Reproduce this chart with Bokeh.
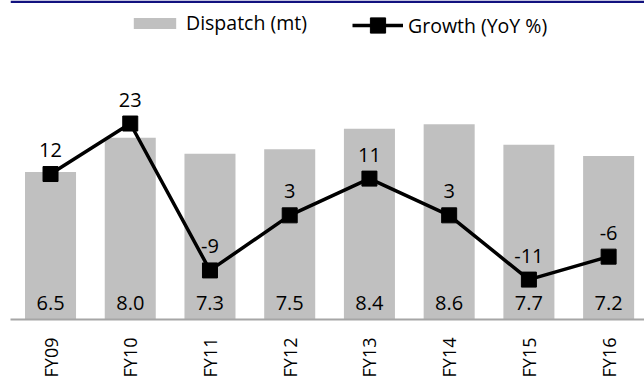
import math
from bokeh.plotting import figure
from bokeh.models import Range1d, FixedTicker, ColumnDataSource, Legend, LegendItem, Span
from bokeh.core.properties import value
from bokeh.embed import file_html
from bokeh.resources import INLINE

years = ["FY09", "FY10", "FY11", "FY12", "FY13", "FY14", "FY15", "FY16"]
dispatch = [6.5, 8.0, 7.3, 7.5, 8.4, 8.6, 7.7, 7.2]
growth = [12, 23, -9, 3, 11, 3, -11, -6]

FONT = "Open Sans"
xs = list(range(len(years)))
src = ColumnDataSource(dict(
    x=xs, d=dispatch, g=growth, zero=[0] * len(xs),
    dl=[f"{v:.1f}" for v in dispatch], gl=[str(v) for v in growth],
))

BAR_TOP = 14.05
p = figure(frame_width=634, frame_height=319,
           x_range=Range1d(-0.502, 7.45), y_range=Range1d(0, BAR_TOP),
           output_backend="svg", toolbar_location=None, y_axis_location=None,
           min_border_left=10, min_border_right=0, min_border_top=0, min_border_bottom=0)
p.extra_y_ranges = {"g": Range1d(-19.69, 49.8)}
p.outline_line_color = None
p.xgrid.visible = False
p.ygrid.visible = False

# navy rule along the top edge of the chart
p.add_layout(Span(location=BAR_TOP - 0.055, dimension="width", line_color="#12127f",
                  line_width=2.5))

bars = p.vbar(x="x", top="d", width=0.64, source=src, fill_color="#c0c0c0", line_color=None)
ln = p.line("x", "g", y_range_name="g", line_color="black", line_width=3.5, source=src)
pts = p.scatter("x", "g", y_range_name="g", marker="square", size=15,
                fill_color="black", line_color="black", source=src)

p.text(x="x", y="zero", text="dl", source=src, text_align="center", text_baseline="alphabetic",
       y_offset=-17, text_font=value(FONT), text_font_size="20px", text_color="black")
p.text(x="x", y="g", text="gl", source=src, y_range_name="g", text_align="center",
       text_baseline="alphabetic", y_offset=-24, text_font=value(FONT), text_font_size="20px",
       text_color="black")

leg1 = Legend(items=[LegendItem(label="Dispatch (mt)", renderers=[bars])],
              location=(118, 283), orientation="horizontal", glyph_width=53, glyph_height=14,
              label_standoff=5, padding=0, margin=0, border_line_color=None,
              background_fill_alpha=0, label_text_font=FONT, label_text_font_size="19.5px",
              label_text_color="black")
leg2 = Legend(items=[LegendItem(label="Growth (YoY %)", renderers=[ln, pts])],
              location=(342, 275), orientation="horizontal", glyph_width=51, glyph_height=38,
              label_standoff=5, padding=0, margin=0, border_line_color=None,
              background_fill_alpha=0, label_text_font=FONT, label_text_font_size="19.5px",
              label_text_color="black")
p.add_layout(leg1)
p.add_layout(leg2)

ax = p.xaxis[0]
ax.ticker = FixedTicker(ticks=xs)
ax.major_label_overrides = {i: y for i, y in enumerate(years)}
ax.major_label_orientation = math.pi / 2
ax.major_tick_line_color = None
ax.minor_tick_line_color = None
ax.major_tick_out = 0
ax.major_tick_in = 0
ax.major_label_standoff = 18
ax.axis_line_color = "#a6a6a6"
ax.axis_line_width = 2
ax.major_label_text_font = FONT
ax.major_label_text_font_size = "18px"
ax.major_label_text_color = "black"

open("out.html", "w").write(file_html(p, INLINE))
